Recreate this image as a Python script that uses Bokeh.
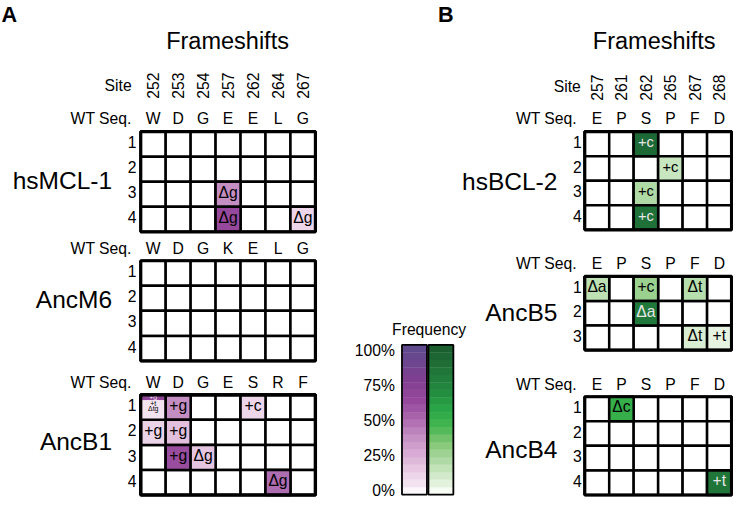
import math
from bokeh.plotting import figure
from bokeh.models import Range1d, ColumnDataSource, LinearColorMapper
from bokeh.transform import transform
from bokeh.core.properties import value
from bokeh.embed import file_html
from bokeh.resources import INLINE

# ---------------- data ----------------
left_sites = ["252", "253", "254", "257", "262", "264", "267"]
right_sites = ["257", "261", "262", "265", "267", "268"]

hsMCL1_wt = ["W", "D", "G", "E", "E", "L", "G"]
ancM6_wt = ["W", "D", "G", "K", "E", "L", "G"]
ancB1_wt = ["W", "D", "G", "E", "S", "R", "F"]
hsBCL2_wt = ["E", "P", "S", "P", "F", "D"]
ancB5_wt = ["E", "P", "S", "P", "F", "D"]
ancB4_wt = ["E", "P", "S", "P", "F", "D"]

# mutations: replicate row (1-based), site column index, label, frequency
hsMCL1_rows = [3, 4, 4]
hsMCL1_cols = [3, 3, 6]
hsMCL1_labels = ["Δg", "Δg", "Δg"]
hsMCL1_freq = [0.38, 0.62, 0.12]

ancM6_rows, ancM6_cols, ancM6_labels, ancM6_freq = [], [], [], []

ancB1_rows = [1, 1, 2, 2, 3, 3, 4]
ancB1_cols = [1, 4, 0, 1, 1, 2, 5]
ancB1_labels = ["+g", "+c", "+g", "+g", "+g", "Δg", "Δg"]
ancB1_freq = [0.38, 0.12, 0.13, 0.20, 0.60, 0.18, 0.48]
# mixed cell (replicate 1, site 252)
ancB1_mixed_labels = ["+g", "+t", "Δtg"]
ancB1_mixed_freq = [0.68, 0.07, 0.07]

hsBCL2_rows = [1, 2, 3, 4]
hsBCL2_cols = [2, 3, 2, 2]
hsBCL2_labels = ["+c", "+c", "+c", "+c"]
hsBCL2_freq = [0.90, 0.15, 0.22, 0.85]

ancB5_rows = [1, 1, 1, 2, 3, 3]
ancB5_cols = [0, 2, 4, 2, 4, 5]
ancB5_labels = ["Δa", "+c", "Δt", "Δa", "Δt", "+t"]
ancB5_freq = [0.18, 0.28, 0.20, 0.80, 0.10, 0.06]

ancB4_rows = [1, 4]
ancB4_cols = [1, 5]
ancB4_labels = ["Δc", "+t"]
ancB4_freq = [0.50, 0.82]

freq_ticks = [1.0, 0.75, 0.5, 0.25, 0.0]
freq_tick_labels = ["100%", "75%", "50%", "25%", "0%"]
n_bands = 20

# ---------------- styles ----------------
FONT = value("Liberation Sans")
FSCALE = 0.98          # page is ~2% smaller than the reference canvas
BASE_SHIFT = 0.37      # svg text: alphabetic y sits mid-cap; shift by this * size

purple_anchors = [(0.0, "#ffffff"), (0.05, "#f6e8f3"), (0.15, "#e9cfe5"),
                  (0.25, "#dbb1d6"), (0.4, "#c28ac0"), (0.5, "#ab68ad"),
                  (0.62, "#974a9d"), (0.75, "#843f92"), (0.88, "#6e4690"),
                  (1.0, "#5d4a8b")]
green_anchors = [(0.0, "#ffffff"), (0.05, "#e9f5e5"), (0.15, "#c9e6c0"),
                 (0.25, "#a7d69b"), (0.35, "#7fc672"), (0.45, "#45b650"),
                 (0.55, "#2aa947"), (0.7, "#23893f"), (0.85, "#1f7238"),
                 (1.0, "#1a5c30")]


def hex2rgb(h):
    return tuple(int(h[i:i + 2], 16) for i in (1, 3, 5))


def build_palette(anchors, n):
    out = []
    for i in range(n):
        t = i / (n - 1)
        for (t0, c0), (t1, c1) in zip(anchors[:-1], anchors[1:]):
            if t0 <= t <= t1:
                f = (t - t0) / (t1 - t0)
                a, b = hex2rgb(c0), hex2rgb(c1)
                rgb = [round(a[k] + (b[k] - a[k]) * f) for k in range(3)]
                out.append("#%02x%02x%02x" % tuple(rgb))
                break
    return out


purple_mapper = LinearColorMapper(palette=build_palette(purple_anchors, 100), low=0, high=1)
green_mapper = LinearColorMapper(palette=build_palette(green_anchors, 100), low=0, high=1)

# ---------------- figure ----------------
p = figure(width=733, height=498, x_range=Range1d(0, 749), y_range=Range1d(509, 0),
           output_backend="svg", toolbar_location=None, min_border=0,
           x_axis_type=None, y_axis_type=None, title=None)
p.grid.visible = False
p.outline_line_color = None
p.background_fill_color = "white"
p.border_fill_color = "white"


def txt(xs, baselines, texts, fs, align="center", style="normal", color="black"):
    """Place text so that its alphabetic baseline lies at `baselines`."""
    ys = [b - BASE_SHIFT * fs for b in baselines]
    p.text(x=xs, y=ys, text=texts, text_font=FONT, text_font_size="%.1fpx" % (fs * FSCALE),
           text_align=align, text_baseline="alphabetic", text_font_style=style,
           text_color=color)


def vtxt(xs, centers, texts, fs):
    p.text(x=xs, y=centers, text=texts, text_font=FONT,
           text_font_size="%.1fpx" % (fs * FSCALE), text_align="center",
           text_baseline="middle", angle=math.pi / 2)


# layout constants
L_X0, L_CW, L_RH = 143.3, 25.5, 25.6
R_X0, R_CW, R_RH = 597.0, 25.0, 25.1


def draw_grid(x0, top, cw, rh, nrows, wt, rows, cols, labels, freqs, mapper,
              fs, name, name_x, name_y, num_x, light_text=False):
    ncols = len(wt)
    # WT seq row
    txt([num_x - 5], [top - 7], ["WT Seq."], 16, align="right")
    txt([x0 + (c + 0.5) * cw for c in range(ncols)], [top - 7] * ncols, wt, 16)
    # row numbers
    txt([num_x] * nrows, [top + (r + 0.5) * rh + 4 for r in range(nrows)],
        [str(r + 1) for r in range(nrows)], 16, align="right")
    # empty cells
    xs, ys = [], []
    for r in range(nrows):
        for c in range(ncols):
            xs.append(x0 + (c + 0.5) * cw)
            ys.append(top + (r + 0.5) * rh)
    p.rect(x=xs, y=ys, width=cw, height=rh, fill_color="white", line_color="black",
           line_width=2.5)
    # mutated cells
    if rows:
        src = ColumnDataSource(dict(
            x=[x0 + (c + 0.5) * cw for c in cols],
            y=[top + (r - 0.5) * rh for r in rows],
            freq=freqs))
        p.rect(x="x", y="y", width=cw, height=rh, source=src,
               fill_color=transform("freq", mapper), line_color="black", line_width=2.5)
        tcol = [("#e6e6e6" if (light_text and f >= 0.75) else "black") for f in freqs]
        p.text(x=[x0 + (c + 0.5) * cw for c in cols],
               y=[top + (r - 0.5) * rh + 3.8 - BASE_SHIFT * fs for r in rows],
               text=labels, text_color=tcol, text_font=FONT,
               text_font_size="%.1fpx" % (fs * FSCALE),
               text_align="center", text_baseline="alphabetic")
    # outer border
    p.rect(x=[x0 + ncols * cw / 2], y=[top + nrows * rh / 2], width=ncols * cw,
           height=nrows * rh, fill_color=None, line_color="black", line_width=3.2)
    # name
    txt([name_x], [name_y], [name], 25, align="right")


# panel letters and titles
txt([1], [22], ["A"], 22, align="left", style="bold")
txt([447], [22], ["B"], 22, align="left", style="bold")
txt([232], [50], ["Frameshifts"], 24)
txt([668], [50], ["Frameshifts"], 24)

# sites
txt([134], [93], ["Site"], 16, align="right")
vtxt([L_X0 + (c + 0.5) * L_CW for c in range(len(left_sites))], [87] * len(left_sites),
     left_sites, 16)
txt([593], [94], ["Site"], 16, align="right")
vtxt([R_X0 + (c + 0.5) * R_CW for c in range(len(right_sites))], [89] * len(right_sites),
     right_sites, 16)

# left grids
draw_grid(L_X0, 134, L_CW, L_RH, 4, hsMCL1_wt, hsMCL1_rows, hsMCL1_cols, hsMCL1_labels,
          hsMCL1_freq, purple_mapper, 16, "hsMCL-1", 114, 193, 139)
draw_grid(L_X0, 266, L_CW, L_RH, 4, ancM6_wt, ancM6_rows, ancM6_cols, ancM6_labels,
          ancM6_freq, purple_mapper, 16, "AncM6", 114, 315, 139)
draw_grid(L_X0, 403, L_CW, L_RH, 4, ancB1_wt, ancB1_rows, ancB1_cols, ancB1_labels,
          ancB1_freq, purple_mapper, 16, "AncB1", 114, 460, 139)

# mixed cell in AncB1 (replicate 1, site 252)
mx = L_X0 + 0.5 * L_CW
strip_h = 0.22 * L_RH
mix_src = ColumnDataSource(dict(
    x=[mx, mx],
    y=[403 + strip_h / 2, 403 + strip_h + (L_RH - strip_h) / 2],
    h=[strip_h, L_RH - strip_h],
    freq=[ancB1_mixed_freq[0], ancB1_mixed_freq[1]]))
p.rect(x="x", y="y", width=L_CW - 2.5, height="h", source=mix_src,
       fill_color=transform("freq", purple_mapper), line_color=None)
p.rect(x=[mx], y=[403 + L_RH / 2], width=L_CW, height=L_RH, fill_color=None,
       line_color="black", line_width=2.5)
txt([mx], [408.5], [ancB1_mixed_labels[0]], 7, color="#f3e3f0")
txt([mx, mx], [414, 420], ancB1_mixed_labels[1:], 7)
p.rect(x=[L_X0 + 7 * L_CW / 2], y=[403 + 2 * L_RH], width=7 * L_CW, height=4 * L_RH,
       fill_color=None, line_color="black", line_width=3.2)

# right grids
draw_grid(R_X0, 134, R_CW, R_RH, 4, hsBCL2_wt, hsBCL2_rows, hsBCL2_cols, hsBCL2_labels,
          hsBCL2_freq, green_mapper, 15, "hsBCL-2", 569, 194, 594, light_text=True)
draw_grid(R_X0, 282, R_CW, R_RH, 3, ancB5_wt, ancB5_rows, ancB5_cols, ancB5_labels,
          ancB5_freq, green_mapper, 16, "AncB5", 569, 328, 594, light_text=True)
draw_grid(R_X0, 405, R_CW, R_RH, 4, ancB4_wt, ancB4_rows, ancB4_cols, ancB4_labels,
          ancB4_freq, green_mapper, 16, "AncB4", 569, 468, 594, light_text=True)

# colour bars
BAR_TOP, BAR_BOT = 352.0, 505.0
bh = (BAR_BOT - BAR_TOP) / n_bands
band_vals = [(i + 0.5) / n_bands for i in range(n_bands)]
band_y = [BAR_BOT - v * (BAR_BOT - BAR_TOP) for v in band_vals]
for xc, mapper in ((423.0, purple_mapper), (450.0, green_mapper)):
    bsrc = ColumnDataSource(dict(x=[xc] * n_bands, y=band_y, freq=band_vals))
    p.rect(x="x", y="y", width=25, height=bh + 0.3, source=bsrc,
           fill_color=transform("freq", mapper), line_color=None)
    p.rect(x=[xc], y=[(BAR_TOP + BAR_BOT) / 2], width=25.5, height=BAR_BOT - BAR_TOP,
           fill_color=None, line_color="black", line_width=1.8)

txt([438], [342], ["Frequency"], 16)
txt([403] * len(freq_ticks), [507 - v * 143 for v in freq_ticks],
    freq_tick_labels, 16, align="right")

open("out.html", "w").write(file_html(p, INLINE))
